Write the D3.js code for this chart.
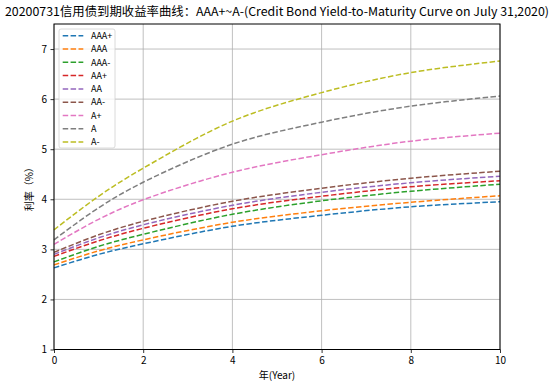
<!DOCTYPE html>
<html>
<head>
<meta charset="utf-8">
<script src="https://cdn.jsdelivr.net/npm/d3@7"></script>
<style>
  body { margin: 0; background: #fff; }
  svg text { font-family: "Noto Sans CJK SC", "DejaVu Sans", sans-serif; fill: #000; }
</style>
</head>
<body>
<div id="chart"></div>
<script>
const maturities = [0, 1, 2, 4, 6, 8, 10];
const ratings = ["AAA+", "AAA", "AAA-", "AA+", "AA", "AA-", "A+", "A", "A-"];
const yAAAp = [2.63, 2.90, 3.11, 3.46, 3.68, 3.85, 3.95];
const yAAA  = [2.69, 2.97, 3.19, 3.54, 3.77, 3.94, 4.07];
const yAAAm = [2.75, 3.06, 3.30, 3.70, 3.97, 4.16, 4.30];
const yAAp  = [2.86, 3.17, 3.42, 3.81, 4.06, 4.25, 4.37];
const yAA   = [2.90, 3.23, 3.49, 3.88, 4.14, 4.33, 4.46];
const yAAm  = [2.94, 3.29, 3.56, 3.96, 4.22, 4.42, 4.56];
const yAp   = [3.10, 3.60, 3.99, 4.54, 4.89, 5.16, 5.32];
const yA    = [3.19, 3.83, 4.34, 5.10, 5.54, 5.86, 6.06];
const yAm   = [3.39, 4.06, 4.62, 5.56, 6.13, 6.53, 6.76];
const seriesValues = [yAAAp, yAAA, yAAAm, yAAp, yAA, yAAm, yAp, yA, yAm];
const xTicks = [0, 2, 4, 6, 8, 10];
const yTicks = [1, 2, 3, 4, 5, 6, 7];

const titleText = "20200731信用债到期收益率曲线：AAA+~A-(Credit Bond Yield-to-Maturity Curve on July 31,2020)";
const xLabel = "年(Year)";
const yLabel = "利率（%）";

const colors = d3.schemeCategory10;
const W = 554, H = 385;
const margin = { left: 54, right: 54, top: 24, bottom: 35.5 };

const svg = d3.select("#chart").append("svg")
  .attr("width", W).attr("height", H);

const x = d3.scaleLinear().domain([0, 10]).range([margin.left, W - margin.right]);
const y = d3.scaleLinear().domain([1, 7.5]).range([H - margin.bottom, margin.top]);

// grid
svg.append("g").selectAll("line").data(xTicks).enter().append("line")
  .attr("x1", d => x(d)).attr("x2", d => x(d))
  .attr("y1", y(1)).attr("y2", y(7.5))
  .attr("stroke", "#b0b0b0").attr("stroke-width", 0.8);
svg.append("g").selectAll("line").data(yTicks).enter().append("line")
  .attr("x1", x(0)).attr("x2", x(10))
  .attr("y1", d => y(d)).attr("y2", d => y(d))
  .attr("stroke", "#b0b0b0").attr("stroke-width", 0.8);

// curves
const line = d3.line()
  .x((d, i) => x(maturities[i]))
  .y(d => y(d))
  .curve(d3.curveCatmullRom.alpha(0.5));

svg.append("g").selectAll("path").data(seriesValues).enter().append("path")
  .attr("d", d => line(d))
  .attr("fill", "none")
  .attr("stroke", (d, i) => colors[i])
  .attr("stroke-width", 1.5)
  .attr("stroke-dasharray", "5.5,2.4");

// axes
const xAxis = svg.append("g")
  .attr("transform", `translate(0,${y(1)})`)
  .call(d3.axisBottom(x).tickValues(xTicks).tickSize(3.5).tickPadding(3.5).tickFormat(d3.format("d")));
const yAxis = svg.append("g")
  .attr("transform", `translate(${x(0)},0)`)
  .call(d3.axisLeft(y).tickValues(yTicks).tickSize(3.5).tickPadding(3.5).tickFormat(d3.format("d")));
[xAxis, yAxis].forEach(g => {
  g.select(".domain").remove();
  g.selectAll("line").attr("stroke", "#000").attr("stroke-width", 0.8);
  g.selectAll("text").attr("font-size", 10).attr("fill", "#000")
    .style("font-family", "'Noto Sans CJK SC', 'DejaVu Sans', sans-serif");
});

// frame
svg.append("rect")
  .attr("x", x(0)).attr("y", y(7.5))
  .attr("width", x(10) - x(0)).attr("height", y(1) - y(7.5))
  .attr("fill", "none").attr("stroke", "#000").attr("stroke-width", 1);

// title and labels
svg.append("text")
  .attr("x", W / 2).attr("y", 16)
  .attr("text-anchor", "middle")
  .attr("font-size", 12)
  .attr("textLength", 544).attr("lengthAdjust", "spacingAndGlyphs")
  .text(titleText);

svg.append("text")
  .attr("x", (x(0) + x(10)) / 2).attr("y", 379)
  .attr("text-anchor", "middle")
  .attr("font-size", 10)
  .text(xLabel);

svg.append("text")
  .attr("transform", `translate(33,${(y(1) + y(7.5)) / 2}) rotate(-90)`)
  .attr("text-anchor", "middle")
  .attr("font-size", 10)
  .text(yLabel);

// legend
const legend = svg.append("g").attr("transform", "translate(59,29)");
legend.append("rect")
  .attr("width", 56).attr("height", 119).attr("rx", 2)
  .attr("fill", "#fff").attr("fill-opacity", 0.8)
  .attr("stroke", "#d0d0d0").attr("stroke-width", 0.8);
const items = legend.selectAll("g.item").data(ratings).enter().append("g")
  .attr("class", "item")
  .attr("transform", (d, i) => `translate(0,${6.7 + i * 13.3})`);
items.append("line")
  .attr("x1", 3.7).attr("x2", 24.3)
  .attr("stroke", (d, i) => colors[i])
  .attr("stroke-width", 1.5)
  .attr("stroke-dasharray", "5.5,2.4");
items.append("text")
  .attr("x", 32).attr("y", 3.2)
  .attr("font-size", 9)
  .text(d => d);
</script>
</body>
</html>
